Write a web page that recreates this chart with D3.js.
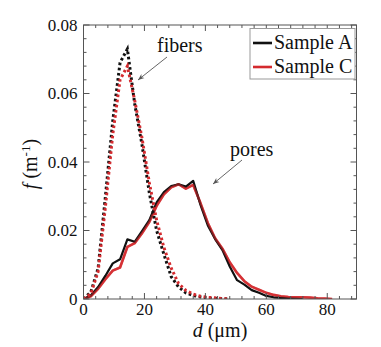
<!DOCTYPE html>
<html><head><meta charset="utf-8">
<script src="https://cdn.jsdelivr.net/npm/d3@7"></script>
<style>svg text, svg tspan{font-family:"Liberation Serif","Times New Roman",serif !important}</style>
</head><body style="margin:0">
<div id="c"></div>
<script>
const diam = [0,2.4,4.8,7.2,9.6,12,14.4,16.8,19.2,21.6,24,26.4,28.8,31.2,33.6,36,38.4,40.8,43.2,45.6,48,50.4,52.8,55.2,57.6,60,62.4,64.8,67.2,69.6,72,74.4,76.8,79.2,81.6];
const fibersA = [0,0.002,0.009,0.030,0.052,0.069,0.073,0.057,0.045,0.031,0.020,0.013,0.0065,0.0035,0.0018,0.001,0.0006,0.0003,0.0002,0.0001,0];
const fibersC = [0,0.0015,0.008,0.027,0.048,0.064,0.068,0.058,0.047,0.034,0.023,0.015,0.009,0.0045,0.0025,0.0014,0.0008,0.0005,0.0003,0.0001,0];
const poresA = [0,0.001,0.0035,0.0068,0.0104,0.0116,0.0174,0.0167,0.0198,0.0230,0.0282,0.0312,0.0330,0.0335,0.0328,0.0345,0.0275,0.0215,0.0175,0.0143,0.0095,0.0055,0.0042,0.0026,0.0018,0.0009,0.0005,0.0003,0.0002,0.0001,0];
const poresC = [0,0.0008,0.003,0.0058,0.0083,0.0092,0.0152,0.0163,0.0192,0.0225,0.0272,0.0306,0.0326,0.0335,0.0322,0.0333,0.0280,0.0222,0.0177,0.0147,0.0107,0.0076,0.0052,0.0036,0.0027,0.0018,0.0012,0.0008,0.0006,0.0005,0.0005,0.0004,0.0002,0.0001,0];
const seriesNames = ["Sample A","Sample C"];
const colors = ["#111111","#d42a2e"];
const xTicks = [0,20,40,60,80];
const yTicks = [0,0.02,0.04,0.06,0.08];
const yTickLabels = ["0","0.02","0.04","0.06","0.08"];

const W=381,H=347, L=83.5, R=356.5, T=25, B=299;
const svg=d3.select("#c").append("svg").attr("width",W).attr("height",H).style("display","block");
const txt=(sel,size)=>sel.append("text").style("font-family","'Liberation Serif', 'Times New Roman', serif","important").style("font-size",size+"px").attr("fill","#111");
const x=d3.scaleLinear().domain([0,89.6]).range([L,R]);
const y=d3.scaleLinear().domain([0,0.08]).range([B,T]);

svg.append("clipPath").attr("id","cp").append("rect").attr("x",L).attr("y",T).attr("width",R-L).attr("height",B-T);

const line=d3.line().x((d,i)=>x(diam[i])).y(d=>y(d));
const g=svg.append("g").attr("clip-path","url(#cp)");
g.append("path").datum(poresC).attr("d",line).attr("fill","none").attr("stroke",colors[1]).attr("stroke-width",2.6).attr("stroke-linejoin","round").attr("opacity",0.92);
g.append("path").datum(poresA).attr("d",line).attr("fill","none").attr("stroke",colors[0]).attr("stroke-width",2.2).attr("stroke-linejoin","round");
g.append("path").datum(poresC).attr("d",line).attr("fill","none").attr("stroke",colors[1]).attr("stroke-width",2.2).attr("stroke-linejoin","round").attr("opacity",0.55);
g.append("path").datum(fibersA).attr("d",line).attr("fill","none").attr("stroke",colors[0]).attr("stroke-width",3).attr("stroke-dasharray","2.6,2.6");
g.append("path").datum(fibersC).attr("d",line).attr("fill","none").attr("stroke",colors[1]).attr("stroke-width",3).attr("stroke-dasharray","2.6,2.6");

svg.append("rect").attr("x",L).attr("y",T).attr("width",R-L).attr("height",B-T).attr("fill","none").attr("stroke","#555").attr("stroke-width",1);

const ax=svg.append("g");
const xMinor=d3.range(0,89.6,4);
const yMinor=d3.range(0,0.0801,0.004);
xMinor.forEach(v=>{const len=xTicks.includes(v)?6:3;
  ax.append("line").attr("x1",x(v)).attr("x2",x(v)).attr("y1",B).attr("y2",B-len).attr("stroke","#555");
  ax.append("line").attr("x1",x(v)).attr("x2",x(v)).attr("y1",T).attr("y2",T+len).attr("stroke","#555");});
yMinor.forEach(v=>{const major=yTicks.some(t=>Math.abs(t-v)<1e-6);const len=major?6:3;
  ax.append("line").attr("y1",y(v)).attr("y2",y(v)).attr("x1",L).attr("x2",L+len).attr("stroke","#555");
  ax.append("line").attr("y1",y(v)).attr("y2",y(v)).attr("x1",R).attr("x2",R-len).attr("stroke","#555");});
xTicks.forEach(v=>txt(ax,17).attr("x",x(v)).attr("y",B+16).attr("text-anchor","middle").text(v));
yTicks.forEach((v,i)=>txt(ax,17).attr("x",L-6).attr("y",y(v)+5.5).attr("text-anchor","end").text(yTickLabels[i]));

const xt=txt(svg,20).attr("x",220).attr("y",337).attr("text-anchor","middle");
xt.append("tspan").style("font-style","italic").text("d");
xt.append("tspan").text(" (μm)");
const yt=txt(svg,20).attr("transform","translate(37,164) rotate(-90)").attr("text-anchor","middle");
yt.append("tspan").style("font-style","italic").text("f");
yt.append("tspan").text(" (m");
yt.append("tspan").style("font-size","13px").attr("dy",-7).text("-1");
yt.append("tspan").attr("dy",7).text(")");

svg.append("defs").append("marker").attr("id","ar").attr("viewBox","0 0 10 10").attr("refX",10).attr("refY",5).attr("markerWidth",7).attr("markerHeight",7).attr("orient","auto")
  .append("path").attr("d","M0,1 L10,5 L0,9 L3,5 Z").attr("fill","#555");
txt(svg,20).attr("x",157).attr("y",52).text("fibers");
svg.append("line").attr("x1",167).attr("y1",57).attr("x2",138).attr("y2",80).attr("stroke","#555").attr("stroke-width",0.9).attr("marker-end","url(#ar)");
txt(svg,20).attr("x",230).attr("y",156).text("pores");
svg.append("line").attr("x1",242).attr("y1",160).attr("x2",213).attr("y2",184).attr("stroke","#555").attr("stroke-width",0.9).attr("marker-end","url(#ar)");

const lg=svg.append("g");
lg.append("rect").attr("x",250).attr("y",28.5).attr("width",105).attr("height",50.5).attr("fill","#fff").attr("stroke","#999").attr("stroke-width",1);
seriesNames.forEach((n,i)=>{const yy=43+i*24;
  lg.append("line").attr("x1",253).attr("x2",272).attr("y1",yy).attr("y2",yy).attr("stroke",colors[i]).attr("stroke-width",2.6);
  txt(lg,20).attr("x",274).attr("y",yy+6).text(n);});
</script></body></html>
